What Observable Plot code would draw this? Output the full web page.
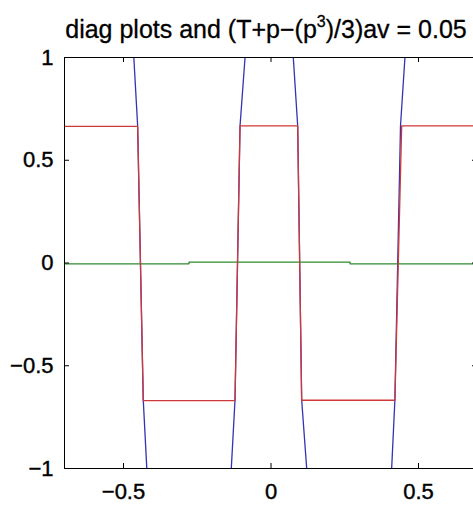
<!DOCTYPE html>
<html>
<head>
<meta charset="utf-8">
<script src="https://cdn.jsdelivr.net/npm/d3@7"></script>
<script src="https://cdn.jsdelivr.net/npm/@observablehq/plot@0.6"></script>
<style>
  html, body { margin: 0; padding: 0; background: white; overflow: hidden; }
  #wrap { position: relative; width: 473px; height: 508px; overflow: hidden; }
  #wrap svg { max-width: none !important; position: absolute; left: 0; top: 0; }
  #wrap svg g[aria-label$="tick label"] text { stroke: black; stroke-width: 0.4px; }
  #title {
    position: absolute; left: 0; top: 17px; width: 532px; text-align: center;
    font-family: "Liberation Sans", Arial, sans-serif; font-size: 25px; line-height: 25px;
    white-space: nowrap; color: black; z-index: 2; -webkit-text-stroke: 0.3px black;
  }
  #title .sup { font-size: 16px; position: relative; top: -11px; }
</style>
</head>
<body>
<div id="wrap">
  <div id="title">diag plots and (T+p−(p<span class="sup">3</span>)/3)av = 0.05</div>
</div>
<script>
// tick values
const xTicks = [-0.5, 0, 0.5];
const yTicks = [-1, -0.5, 0, 0.5, 1];

// blue series (steep curves through each transition, leaving the axes)
const blueX = [-0.70, -0.478, -0.465, -0.452, -0.433, -0.421, -0.408, -0.148, -0.1346, -0.122, -0.105, -0.088, -0.076, 0.064, 0.0756, 0.0905, 0.104, 0.121, 0.133, 0.397, 0.409, 0.420, 0.439, 0.454, 0.467, 0.70];
const blueY = [1.6, 1.15, 1.0, 0.667, -0.667, -1.0, -1.15, -1.15, -1.0, -0.667, 0.667, 1.0, 1.15, 1.15, 1.0, 0.667, -0.667, -1.0, -1.15, -1.15, -1.0, -0.667, 0.667, 1.0, 1.15, 1.6];

// green series (near zero)
const greenX = [-0.70, -0.278, -0.278, 0.268, 0.268, 0.70];
const greenY = [-0.004, -0.004, 0.004, 0.004, -0.004, -0.004];

// red series (square wave at about ±2/3)
const redX = [-0.70, -0.452, -0.433, -0.122, -0.105, 0.0905, 0.104, 0.420, 0.443, 0.70];
const redY = [0.665, 0.665, -0.670, -0.670, 0.667, 0.667, -0.668, -0.668, 0.667, 0.667];

const toRows = (xs, ys) => xs.map((x, i) => ({x, y: ys[i]}));
const blue = toRows(blueX, blueY);
const green = toRows(greenX, greenY);
const red = toRows(redX, redY);

const fmt = d => String(d).replace("-", "−");

const chart = Plot.plot({
  width: 481,
  height: 508,
  marginLeft: 64,
  marginRight: 4,
  marginTop: 57,
  marginBottom: 40,
  style: {
    fontFamily: "'Liberation Sans', Arial, sans-serif",
    fontSize: "22px",
    background: "white",
    color: "black"
  },
  x: {domain: [-0.7, 0.7], ticks: xTicks, tickFormat: fmt, tickSize: 0, tickPadding: 15, label: null},
  y: {domain: [-1, 1], ticks: yTicks, tickFormat: fmt, tickSize: 0, tickPadding: 11, label: null},
  marks: [
    Plot.line(blue, {x: "x", y: "y", stroke: "#3333b5", strokeWidth: 1.3, clip: true}),
    Plot.line(green, {x: "x", y: "y", stroke: "#2e8b2e", strokeWidth: 1.3, clip: true}),
    Plot.line(red, {x: "x", y: "y", stroke: "#cf3838", strokeWidth: 1.3, clip: true}),
    Plot.frame({stroke: "black"}),
    Plot.ruleX(xTicks, {insetTop: 406, stroke: "black"}),
    Plot.ruleX(xTicks, {insetBottom: 406, stroke: "black"}),
    Plot.ruleY(yTicks, {insetRight: 408, stroke: "black"}),
    Plot.ruleY(yTicks, {insetLeft: 408, stroke: "black"})
  ]
});
document.getElementById("wrap").appendChild(chart);
</script>
</body>
</html>
